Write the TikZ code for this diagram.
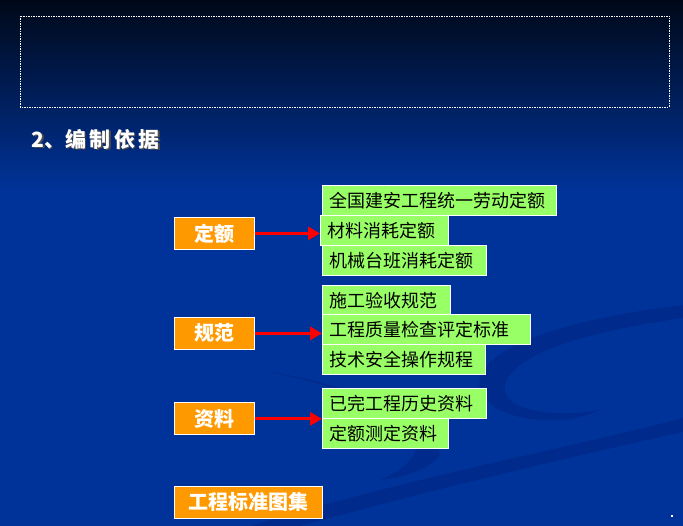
\documentclass[tikz,border=0pt]{standalone}
\usepackage{fontspec}
\setmainfont{Noto Sans CJK SC}
\usetikzlibrary{arrows.meta,positioning}
\definecolor{DeepBlue}{RGB}{0,51,153}
\definecolor{NightBlue}{RGB}{0,8,24}
\definecolor{SwooshBlue}{RGB}{0,43,140}
\definecolor{BasisOrange}{RGB}{255,153,0}
\definecolor{ItemGreen}{RGB}{153,255,102}
\tikzset{
  basisbox/.style={draw=white,line width=0.8pt,fill=BasisOrange,text=white,
    anchor=north west,minimum height=32pt,inner xsep=4pt,font=\fontsize{20}{22}\selectfont\bfseries},
  itembox/.style={draw=white,line width=0.8pt,fill=ItemGreen,text=black,
    anchor=north west,minimum height=30pt,text width=#1,align=left,inner xsep=7pt,
    font=\fontsize{18}{20}\selectfont},
  basisarrow/.style={-{Triangle[length=12pt,width=13pt]},line width=3pt,draw=red},
}
\begin{document}
\begin{tikzpicture}[x=1pt,y=-1pt]
% background
\useasboundingbox (0,0) rectangle (683,526);
\fill[DeepBlue] (0,0) rectangle (683,526);
\shade[top color=NightBlue,bottom color=DeepBlue] (0,0) rectangle (683,190);
\fill[SwooshBlue] (683,305) .. controls (560,320) and (470,350) .. (480,390)
  .. controls (490,420) and (560,430) .. (600,410)
  .. controls (540,420) and (500,405) .. (505,385)
  .. controls (515,350) and (600,330) .. (683,318) -- cycle;
\fill[SwooshBlue] (683,418) .. controls (560,450) and (420,475) .. (250,526)
  -- (300,526) .. controls (450,485) and (580,455) .. (683,432) -- cycle;
\fill[SwooshBlue] (260,370) .. controls (360,390) and (430,420) .. (440,455)
  .. controls (430,470) and (400,478) .. (380,480)
  .. controls (415,465) and (425,445) .. (410,425)
  .. controls (380,395) and (320,380) .. (260,370) -- cycle;
\fill[white] (671,515) rectangle (673,517);
% title frame and heading
\draw[white,line width=0.6pt,dash pattern=on 1.5pt off 1pt] (20,16) rectangle (669,107);
\node[anchor=west,text=black!70,font=\fontsize{21}{24}\selectfont\bfseries] at (29.5,140.5) {2、编\,制\,依\,据};
\node[anchor=west,text=white,font=\fontsize{21}{24}\selectfont\bfseries] (title) at (28,139) {2、编\,制\,依\,据};

% 定额
\node[basisbox,minimum width=80pt] (quota) at (174,217) {定额};
\node[itembox=220pt] (quota1) at (322,185) {全国建安工程统一劳动定额};
\node[itembox=114pt] (quota2) at (320,215.5) {材料消耗定额};
\node[itembox=150pt] (quota3) at (322,245.5) {机械台班消耗定额};
\draw[basisarrow] (quota) -- (quota -| quota2.west);

% 规范
\node[basisbox,minimum width=80pt] (norm) at (174,317) {规范};
\node[itembox=114pt] (norm1) at (322,285) {施工验收规范};
\node[itembox=194pt] (norm2) at (322,314.5) {工程质量检查评定标准};
\node[itembox=149pt] (norm3) at (322,344.3) {技术安全操作规程};
\draw[basisarrow] (norm) -- (norm -| norm2.west);

% 资料
\node[basisbox,minimum width=80pt] (data) at (174,402.5) {资料};
\node[itembox=150pt] (data1) at (322,388.5) {已完工程历史资料};
\node[itembox=112pt] (data2) at (322,418.3) {定额测定资料};
\draw[basisarrow] (data) -- (data -| data1.west);

% 工程标准图集
\node[basisbox,minimum width=148pt] (atlas) at (174,485.5) {工程标准图集};
\end{tikzpicture}
\end{document}
